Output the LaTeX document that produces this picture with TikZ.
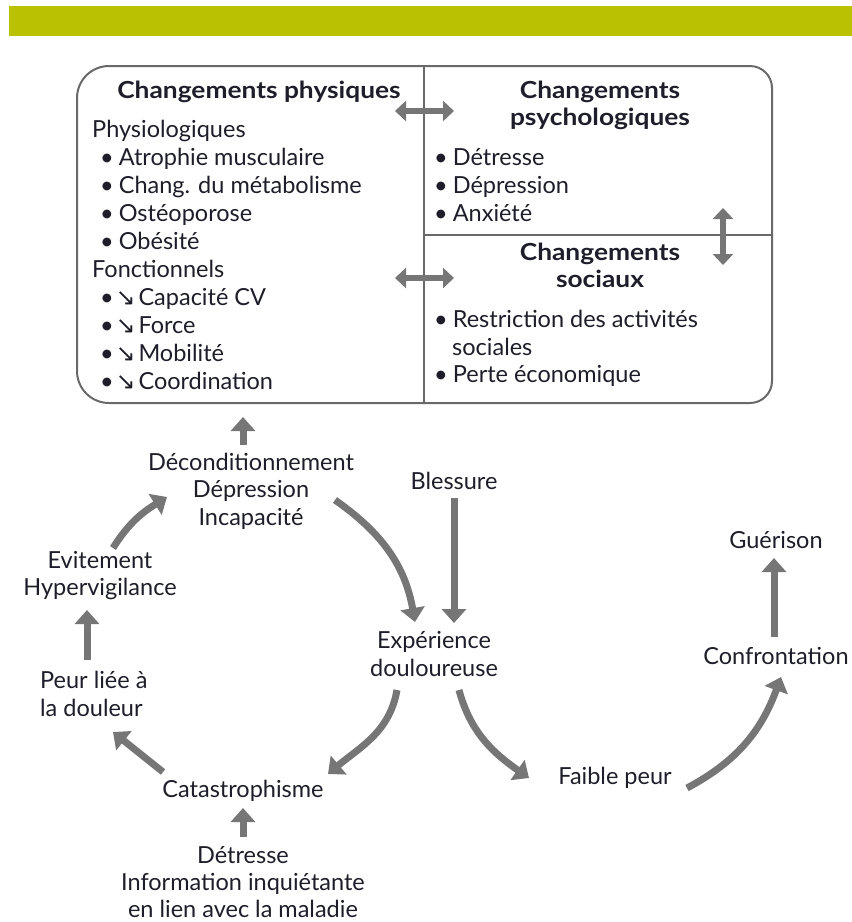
\documentclass[tikz,border=0pt]{standalone}
\usepackage{fontspec}
\setmainfont{Lato}
\newfontfamily\titrefont[FakeStretch=1.12]{Lato}
\newfontfamily\symfont{DejaVu Sans}
\usetikzlibrary{arrows.meta}
\definecolor{bandeau}{RGB}{185,193,0}
\definecolor{ink}{RGB}{30,30,42}
\definecolor{trait}{RGB}{105,105,105}
\definecolor{fleche}{RGB}{118,118,118}
\tikzset{
  txt/.style   ={inner sep=0pt, anchor=base, font=\fontsize{23.5}{28}\selectfont, text=ink},
  txtl/.style  ={txt, anchor=base west},
  titre/.style ={txt, font=\fontsize{23.5}{28}\selectfont\titrefont\bfseries},
  cadre/.style ={draw=trait, line width=2pt},
  garr/.style  ={-{Triangle[width=24pt,length=14pt]}, line width=7pt, draw=fleche},
  darr/.style  ={{Triangle[width=20pt,length=11pt]}-{Triangle[width=20pt,length=11pt]}, line width=6pt, draw=fleche},
}
\newcommand{\puce}{\textbullet\hspace{5pt}}
\newcommand{\baisse}{{\symfont\char"2198}}

\begin{document}
\begin{tikzpicture}[x=1pt, y=1pt]
\useasboundingbox (0,0) rectangle (852,-922);
\fill[bandeau] (9,-6) rectangle (852,-36);

% cadre des changements
\draw[cadre] (424,-66) [rounded corners=22] -- (772,-66) -- (772,-403) -- (424,-403)
  [rounded corners=32] -- (77,-403) -- (77,-66) -- cycle;
\draw[cadre] (424,-66) -- (424,-403);
\draw[cadre] (424,-235) -- (772,-235);
\coordinate (cadrebas) at (243,-403);
\coordinate (lienA) at (424,-111);
\coordinate (lienB) at (424,-278);
\coordinate (lienC) at (723,-235);

\node[titre] (physt) at (259,-98) {Changements physiques};
\node[txtl] (physio) at (92,-137) {Physiologiques};
\foreach \t [count=\i] in {Atrophie musculaire, Chang. du métabolisme, Ostéoporose, Obésité}
  \node[txtl] (physio\i) at (100,-137-28*\i) {\puce\t};
\node[txtl] (fonct) at (92,-277) {Fonctionnels};
\foreach \t [count=\i] in {Capacité CV, Force, Mobilité, Coordination}
  \node[txtl] (fonct\i) at (100,-277-28*\i) {\textbullet\hspace{2pt}\baisse\hspace{3pt}\t};

\node[titre] (psyt1) at (600,-98) {Changements};
\node[titre] (psyt2) at (600,-125) {psychologiques};
\foreach \t [count=\i] in {Détresse, Dépression, Anxiété}
  \node[txtl] (psy\i) at (434,-137-28*\i) {\puce\t};
\node[titre] (soct1) at (600,-260) {Changements};
\node[titre] (soct2) at (600,-287) {sociaux};
\node[txtl] (soc1) at (434,-327) {\puce Restriction des activités};
\node[txtl] (soc2) at (452,-355) {sociales};
\node[txtl] (soc3) at (434,-382) {\puce Perte économique};

\draw[darr] ([xshift=-29pt]lienA) -- ([xshift=30pt]lienA);
\draw[darr] ([xshift=-29pt]lienB) -- ([xshift=30pt]lienB);
\draw[darr] ([yshift=27pt]lienC) -- ([yshift=-30pt]lienC);

% cercle vicieux
\node[txt] (decond) at (251,-470) {Déconditionnement};
\node[txt] (depr)   at (251,-497) {Dépression};
\node[txt] (incap)  at (251,-525) {Incapacité};
\node[txt] (bless)  at (454,-489) {Blessure};
\node[txt] (exper)  at (434,-648) {Expérience};
\node[txt] (doul)   at (434,-676) {douloureuse};
\node[txt] (evit)   at (100,-568) {Evitement};
\node[txt] (hyper)  at (100,-595) {Hypervigilance};
\node[txtl] (peur)  at (40,-688) {Peur liée à};
\node[txtl] (dou)   at (40,-716) {la douleur};
\node[txt] (catas)  at (243,-797) {Catastrophisme};
\node[txt] (detr)   at (243,-863) {Détresse};
\node[txt] (info)   at (243,-890) {Information inquiétante};
\node[txt] (lien)   at (243,-917) {en lien avec la maladie};
\node[txt] (faible) at (615,-784) {Faible peur};
\node[txt] (confr)  at (776,-664) {Confrontation};
\node[txt] (guer)   at (776,-548) {Guérison};

\draw[garr, shorten >=14pt] ([shift={(-8,25)}]decond.base) -- (cadrebas);
\draw[garr] ([yshift=-9pt]bless.base) -- ([shift={(20,25)}]exper.base);
\draw[garr] ([shift={(84,-3)}]depr.base) to[out=-35, in=100] ([shift={(-19,26)}]exper.base);
\draw[garr] ([shift={(13,20)}]evit.base) to[out=58, in=-148] ([shift={(-84,0)}]depr.base);
\draw[garr] ([shift={(47,28)}]peur.base west) -- ([shift={(-13,-15)}]hyper.base);
\draw[garr] ([shift={(-80,25)}]catas.base) -- ([shift={(73,-16)}]dou.base west);
\draw[garr] ([shift={(-37,-14)}]doul.base) to[out=-100, in=40] ([shift={(85,23)}]catas.base);
\draw[garr] ([shift={(25,-14)}]doul.base) to[out=-75, in=145] ([shift={(-86,6)}]faible.base);
\draw[garr] ([shift={(72,-4)}]faible.base) to[out=28, in=-110] ([shift={(5,-13)}]confr.base);
\draw[garr] ([shift={(-2,27)}]confr.base) -- ([shift={(-2,-10)}]guer.base);
\draw[garr] ([yshift=26pt]detr.base) -- ([yshift=-11pt]catas.base);
\end{tikzpicture}
\end{document}
